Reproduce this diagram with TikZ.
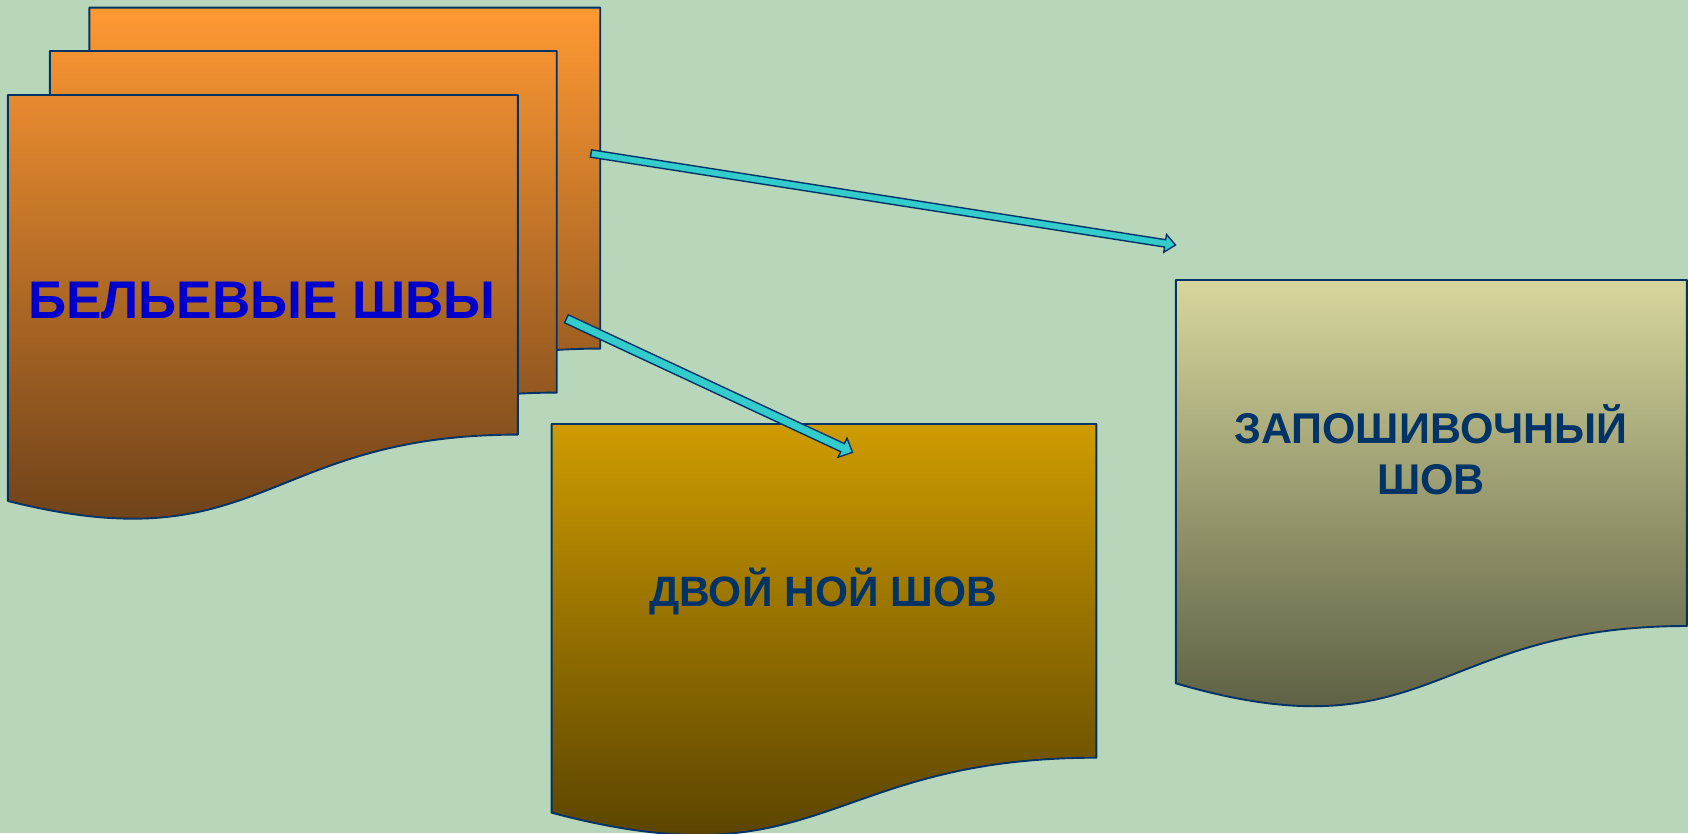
\documentclass[tikz,border=0pt]{standalone}
\usepackage{fontspec}
\setmainfont{Liberation Sans}
\usetikzlibrary{calc}
\definecolor{bg}{RGB}{184,214,186}
\definecolor{navy}{RGB}{0,51,102}
\definecolor{cyanfill}{RGB}{51,204,204}
\definecolor{orTop}{RGB}{255,153,51}
\definecolor{orBot}{RGB}{112,67,26}
\definecolor{goTop}{RGB}{206,155,0}
\definecolor{goBot}{RGB}{92,69,0}
\definecolor{olTop}{RGB}{214,214,156}
\definecolor{olBot}{RGB}{94,96,68}
\definecolor{textblue}{RGB}{0,0,204}
% document shape: left, top, width, right-bottom offset, left-bottom offset, control offset
\newcommand{\docpath}[6]{(#1,#2) -- ({#1+#3},#2) -- ({#1+#3},{#2+#4}) .. controls ({#1+#3/2},{#2+#4}) and ({#1+#3/2},{#2+#6}) .. (#1,{#2+#5}) -- cycle}
\newcommand{\blockarrow}[5]{%
  \coordinate (h) at ($(#2)!#5!(#1)$);
  \draw[arrowbody] ($(#1)!#3!90:(#2)$) -- ($(h)!#3!90:(#2)$) -- ($(h)!#4!90:(#2)$) -- (#2)
    -- ($(h)!#4!-90:(#2)$) -- ($(h)!#3!-90:(#2)$) -- ($(#1)!#3!-90:(#2)$) -- cycle;}
\tikzset{
  docline/.style={draw=navy, line width=1.9pt, line join=round},
  arrowbody/.style={fill=cyanfill, draw=navy, line width=1.4pt, line join=miter},
  label/.style={font=\bfseries\fontsize{43}{51}\selectfont, text=navy, align=center, inner sep=0pt},
}
\begin{document}
\begin{tikzpicture}[x=1pt,y=-1pt]
\useasboundingbox (0,0) rectangle (1688,833);
\fill[bg] (0,0) rectangle (1688,833);

% orange stack (one gradient for the group)
\begin{scope}
  \clip \docpath{89.4}{7.6}{510.8}{341}{406}{471};
  \shade[top color=orTop, bottom color=orBot] (0,7.6) rectangle (620,518);
\end{scope}
\draw[docline] \docpath{89.4}{7.6}{510.8}{341}{406}{471};
\begin{scope}
  \clip \docpath{49.8}{51}{506.9}{341.6}{406}{471};
  \shade[top color=orTop, bottom color=orBot] (0,7.6) rectangle (620,518);
\end{scope}
\draw[docline] \docpath{49.8}{51}{506.9}{341.6}{406}{471};
\begin{scope}
  \clip \docpath{7.9}{95}{510}{339.6}{406}{470};
  \shade[top color=orTop, bottom color=orBot] (0,7.6) rectangle (620,518);
\end{scope}
\draw[docline] \docpath{7.9}{95}{510}{339.6}{406}{470};
\node[label, anchor=base, text=textblue, font=\bfseries\fontsize{53}{60}\selectfont] (bel) at (262,318.5) {БЕЛЬЕВЫЕ ШВЫ};

% double seam document
\begin{scope}
  \clip \docpath{551.6}{424}{544.8}{333.7}{388.7}{461};
  \shade[top color=goTop, bottom color=goBot] (540,424) rectangle (1100,833);
\end{scope}
\draw[docline] \docpath{551.6}{424}{544.8}{333.7}{388.7}{461};
\node[label, anchor=base, font=\bfseries\fontsize{42.5}{50}\selectfont] (dvoi) at (823,606) {ДВОЙ НОЙ ШОВ};

% zaposhivochny document
\begin{scope}
  \clip \docpath{1175.8}{280}{511}{346}{403.3}{478};
  \shade[top color=olTop, bottom color=olBot] (1170,280) rectangle (1690,711);
\end{scope}
\draw[docline] \docpath{1175.8}{280}{511}{346}{403.3}{478};
\node[label, anchor=base] (zap) at (1431,494) {ЗАПОШИВОЧНЫЙ\\ШОВ};

% arrows
\coordinate (a1s) at (591,153.5);
\coordinate (a1e) at (1175.5,245);
\coordinate (a2s) at (566.4,318.8);
\coordinate (a2e) at (852.5,452.3);
\blockarrow{a1s}{a1e}{3.7pt}{9pt}{10.5pt}
\blockarrow{a2s}{a2e}{4.4pt}{10.5pt}{11pt}
\end{tikzpicture}
\end{document}
